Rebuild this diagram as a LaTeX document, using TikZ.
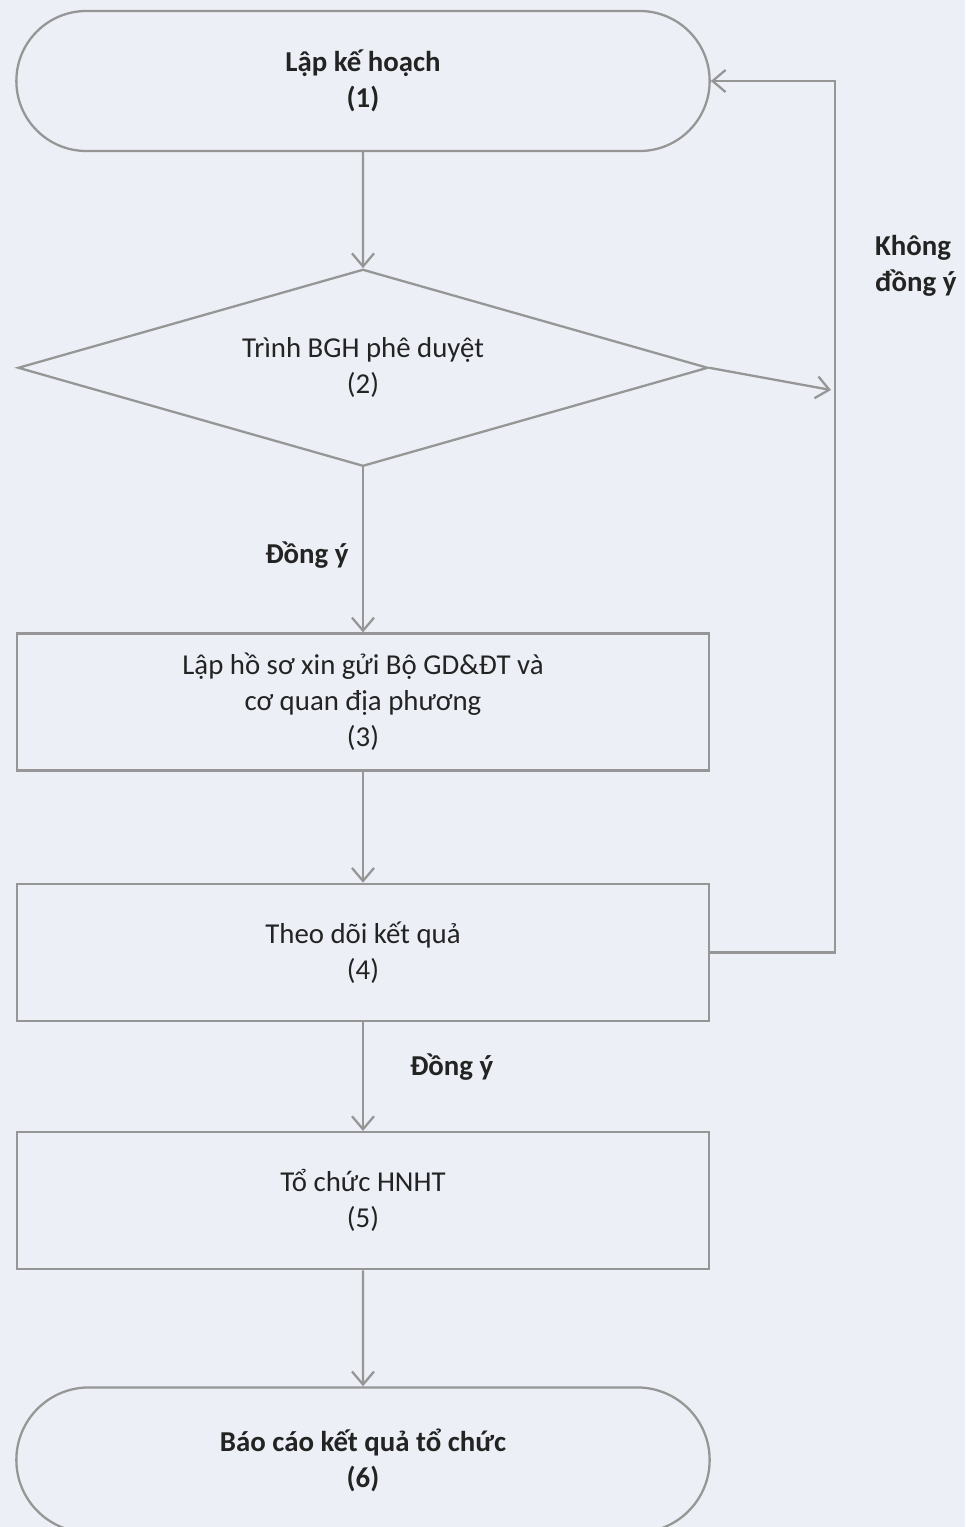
\documentclass[tikz,border=0pt]{standalone}
\usepackage{fontspec}
\setmainfont{Carlito}
\usetikzlibrary{positioning,shapes.geometric,shapes.misc,arrows.meta}
\definecolor{paper}{RGB}{236,239,245}
\definecolor{linegrey}{RGB}{150,150,150}
\definecolor{ink}{RGB}{35,35,35}
\begin{document}
\begin{tikzpicture}[
    node distance=2.2cm,
    >={Straight Barb[length=2.6mm,width=4.4mm]},
    every node/.style={text=ink, font=\fontsize{16.4}{20.5}\selectfont},
    line/.style={draw=linegrey, line width=1.3pt},
    terminal/.style={rounded rectangle, line, minimum width=14.1cm, minimum height=2.8cm, align=center, font=\fontsize{16.4}{20.5}\selectfont\bfseries},
    decision/.style={diamond, line, aspect=3.5, minimum width=13.8cm, minimum height=3.94cm, align=center, inner sep=0pt},
    process/.style={rectangle, line, minimum width=13.84cm, minimum height=2.74cm, align=center},
    answer/.style={font=\fontsize{16.4}{20.5}\selectfont\bfseries, align=left}
]
\fill [paper] (0,0) rectangle (19.3,-30.54);
\useasboundingbox (0,0) rectangle (19.3,-30.54);

% Blocks
\node [terminal] (plan) at (7.26,-1.62) {Lập kế hoạch\\(1)};
\node [decision, below=2.32cm of plan] (approve) {Trình BGH phê duyệt\\(2)};
\node [process, below=3.3cm of approve] (apply) {Lập hồ sơ xin gửi Bộ GD\&ĐT và\\cơ quan địa phương\\(3)};
\node [process, below=2.22cm of apply] (track) {Theo dõi kết quả\\(4)};
\node [process, below=2.18cm of track] (hold) {Tổ chức HNHT\\(5)};
\node [terminal, minimum height=2.9cm, below=2.32cm of hold] (report) {Báo cáo kết quả tổ chức\\(6)};
\node [answer, anchor=west] (refuse) at (17.38,-5.32) {Không\\đồng ý};
\coordinate (loop) at (16.7,-19.07);
\coordinate (reject) at (16.62,-7.8);

% Connections
\draw [line,->] (plan) -- (approve);
\draw [line,->] (approve) -- node[answer, pos=0.53, left=0.15cm]{Đồng ý} (apply);
\draw [line,->] (apply) -- (track);
\draw [line,->] (track) -- node[answer, pos=0.41, right=0.8cm]{Đồng ý} (hold);
\draw [line,->] (hold) -- (report);
\draw [line,->] (approve.east) -- (reject);
\draw [line,->] (track.east) -- (track.east -| loop) |- (plan.east);
\end{tikzpicture}
\end{document}
